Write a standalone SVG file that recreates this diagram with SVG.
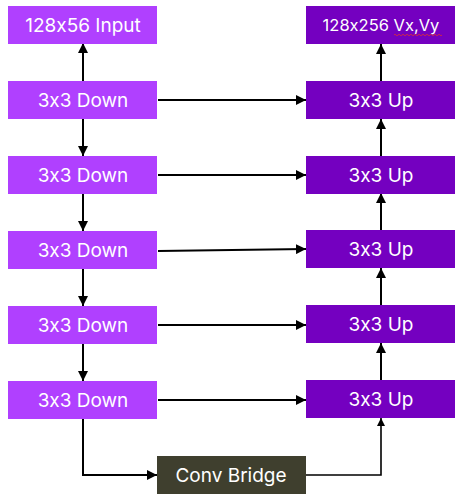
<svg xmlns="http://www.w3.org/2000/svg" width="465" height="499" viewBox="0 0 465 499">
<defs>
<marker id="ah" viewBox="0 0 10 10" refX="10" refY="5" markerWidth="5" markerHeight="5" orient="auto" markerUnits="strokeWidth"><path d="M0,0 L10,5 L0,10 z" fill="#000"/></marker>
<style>
.dn{fill:#b040ff}
.up{fill:#7400c0}
.br{fill:#3f3f2e}
.t{font-family:Inter,"Noto Sans",sans-serif;font-size:19px;fill:#fff;text-anchor:middle;dominant-baseline:central;font-feature-settings:"calt" 0;font-variant-ligatures:none}
.ts{font-size:16.5px}
.c{stroke:#000;stroke-width:2;fill:none;marker-end:url(#ah)}
</style>
</defs>
<rect width="465" height="499" fill="#fff"/>
<g id="connectors">
<path class="c" d="M83,81 V43"/>
<path class="c" d="M83,119 V156"/>
<path class="c" d="M83,194 V231"/>
<path class="c" d="M83,269 V306"/>
<path class="c" d="M83,344 V381"/>
<path class="c" d="M83,419 V475 H157"/>
<path class="c" d="M158,100 H306"/>
<path class="c" d="M158,175 H306"/>
<path class="c" d="M158,251 L306,249"/>
<path class="c" d="M158,325 H306"/>
<path class="c" d="M158,400 H306"/>
<path class="c" d="M306,475 H381 V418" style="stroke-width:1.6"/>
<path class="c" d="M381,380 V343"/>
<path class="c" d="M381,305 V268"/>
<path class="c" d="M381,230 V193"/>
<path class="c" d="M381,156 V119"/>
<path class="c" d="M381,81 V44"/>
</g>
<g id="input"><rect class="dn" x="8" y="6" width="149" height="38"/><text class="t" x="83" y="25">128x56 Input</text></g>
<g id="down1"><rect class="dn" x="8" y="81" width="149" height="38"/><text class="t" x="83" y="100">3x3 Down</text></g>
<g id="down2"><rect class="dn" x="8" y="156" width="149" height="38"/><text class="t" x="83" y="175">3x3 Down</text></g>
<g id="down3"><rect class="dn" x="8" y="231" width="149" height="38"/><text class="t" x="83" y="250">3x3 Down</text></g>
<g id="down4"><rect class="dn" x="8" y="306" width="149" height="38"/><text class="t" x="83" y="325">3x3 Down</text></g>
<g id="down5"><rect class="dn" x="8" y="381" width="149" height="38"/><text class="t" x="83" y="400">3x3 Down</text></g>
<g id="output"><rect class="up" x="306" y="6" width="149" height="38"/><text class="t ts" x="381" y="25">128x256 Vx,Vy</text><path d="M394,35 q1,-1.5 2,0 t2,0 t2,0 t2,0 t2,0 t2,0 t2,0 t2,0 t2,0 t2,0 t2,0 t2,0 t2,0 t2,0 t2,0 t2,0 t2,0 t2,0 t2,0 t2,0 t2,0 t2,0 t2,0 t2,0" stroke="#e03030" stroke-width="0.8" fill="none"/></g>
<g id="up1"><rect class="up" x="306" y="81" width="149" height="38"/><text class="t" x="381" y="100">3x3 Up</text></g>
<g id="up2"><rect class="up" x="306" y="156" width="149" height="38"/><text class="t" x="381" y="175">3x3 Up</text></g>
<g id="up3"><rect class="up" x="306" y="230" width="149" height="38"/><text class="t" x="381" y="249">3x3 Up</text></g>
<g id="up4"><rect class="up" x="306" y="305" width="149" height="38"/><text class="t" x="381" y="324">3x3 Up</text></g>
<g id="up5"><rect class="up" x="306" y="380" width="149" height="38"/><text class="t" x="381" y="399">3x3 Up</text></g>
<g id="bridge"><rect class="br" x="157" y="456" width="149" height="38"/><text class="t" x="231" y="475">Conv Bridge</text></g>
</svg>
